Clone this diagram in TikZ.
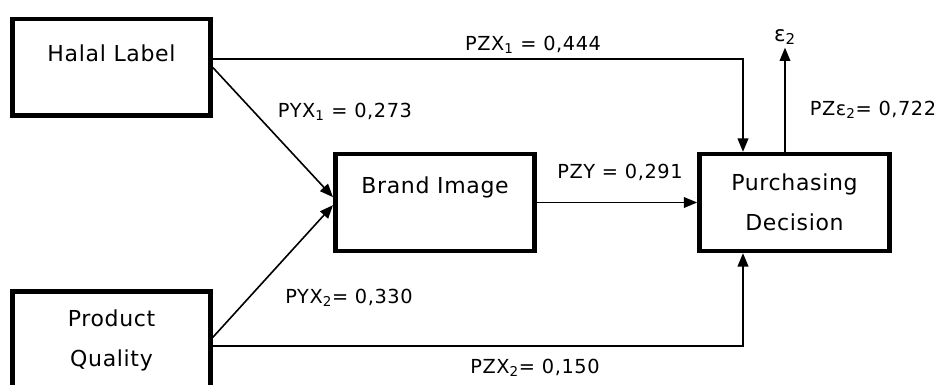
\documentclass[tikz,border=0pt]{standalone}
\usepackage{fontspec}
\setmainfont{DejaVu Sans}[LetterSpace=3]
\usetikzlibrary{arrows.meta}

\newcommand{\lift}[1]{\raisebox{11pt}[\height][\depth]{#1}}

\tikzset{
	varbox/.style={draw, line width=3.5pt, align=center, inner sep=0pt,
		minimum height=72.5pt, font=\fontsize{16.5}{30}\selectfont},
	path/.style={line width=1.2pt, -{Triangle[length=10pt,width=8pt]}},
	coef/.style={inner sep=0pt, font=\fontsize{14.5}{16}\selectfont},
}

\begin{document}
\begin{tikzpicture}[x=0.75pt, y=-0.75pt]
	\clip (0,0) rectangle (940,385);

	% variables
	\node [varbox, minimum width=148.5pt] at (111.5, 67.5) (hl) {\lift{Halal Label}};
	\node [varbox, minimum width=148.5pt] at (111.5, 340) (pq) {Product\\Quality};
	\node [varbox, minimum width=149.5pt] at (435, 202.5) (bi) {\lift{Brand Image}};
	\node [varbox, minimum width=142.5pt] at (794.5, 202.5) (pd) {Purchasing\\Decision};
	\node [coef, inner sep=2pt, font=\fontsize{16}{18}\selectfont] at (785, 37) (eps) {ε\textsubscript{2}};

	\coordinate (zx1) at (743, 59);
	\coordinate (zx2) at (743, 346);

	% paths
	\draw[path] (hl.east |- zx1) -| (pd.north -| zx1);
	\draw[path] (hl.east) -- ([yshift=4pt]bi.west);
	\draw[path] ([yshift=2pt]pq.east) -- ([yshift=-2pt]bi.west);
	\draw[path] (pq.east |- zx2) -| (pd.south -| zx2);
	\draw[path] (bi.east) -- (pd.west);
	\draw[path] (pd.north -| eps.south) -- (eps.south);

	% coefficients
	\node [coef] at (533, 45) (zx1lab) {PZX\textsubscript{1} = 0,444};
	\node [coef] at (345, 112) (yx1lab) {PYX\textsubscript{1} = 0,273};
	\node [coef] at (620, 172) (zylab) {PZY = 0,291};
	\node [coef] at (873, 110) (epslab) {PZε\textsubscript{2}= 0,722};
	\node [coef] at (349, 298) (yx2lab) {PYX\textsubscript{2}= 0,330};
	\node [coef] at (535, 368) (zx2lab) {PZX\textsubscript{2}= 0,150};
\end{tikzpicture}
\end{document}
